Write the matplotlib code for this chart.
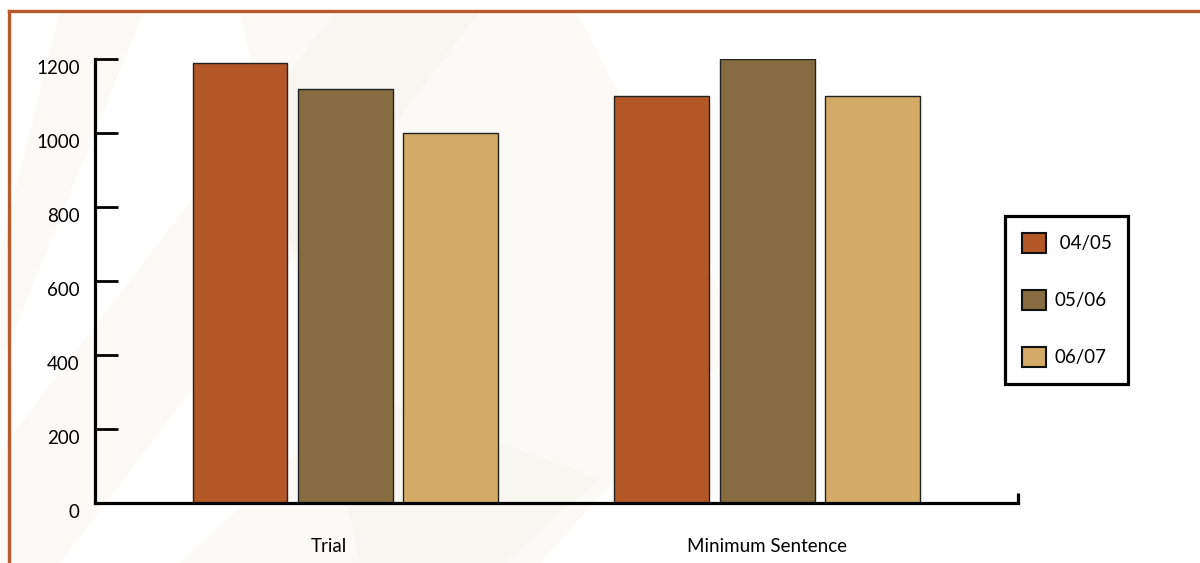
import matplotlib
matplotlib.use("Agg")
import matplotlib.pyplot as plt
import matplotlib.transforms as mtransforms
from matplotlib.lines import Line2D
from matplotlib.patches import Polygon
import numpy as np

categories = ["Trial", "Minimum Sentence"]
series_names = [" 04/05", "05/06", "06/07"]
values_0405 = [1190, 1100]
values_0506 = [1120, 1200]
values_0607 = [1000, 1100]
yticks = [0, 200, 400, 600, 800, 1000, 1200]

colors = ["#b35727", "#866c40", "#d4ab66"]
series = [values_0405, values_0506, values_0607]

plt.rcParams["font.family"] = ["Lato", "DejaVu Sans"]

fig = plt.figure(figsize=(12, 5.63), dpi=100)
fig.patch.set_facecolor("white")

# faint textured background bands
bands = [
    [(0.00, 0.55), (0.05, 0.98), (0.12, 0.98), (0.00, 0.35)],
    [(0.00, 0.20), (0.28, 0.98), (0.40, 0.98), (0.05, 0.00), (0.00, 0.00)],
    [(0.20, 0.98), (0.48, 0.98), (0.62, 0.40), (0.45, 0.00), (0.30, 0.00)],
    [(0.15, 0.00), (0.42, 0.00), (0.50, 0.15), (0.30, 0.30)],
]
for b in bands:
    fig.patches.append(Polygon(b, closed=True, transform=fig.transFigure,
                               facecolor="#f3eee2", alpha=0.28, edgecolor="none",
                               zorder=-5))

# orange frame lines
fig.add_artist(Line2D([9 / 1200, 1.0], [1 - 11 / 563, 1 - 11 / 563],
                      transform=fig.transFigure, color="#b85a2a", lw=2.4))
fig.add_artist(Line2D([9 / 1200, 9 / 1200], [0, 1 - 11 / 563],
                      transform=fig.transFigure, color="#b85a2a", lw=2.4))

ax = fig.add_axes([95 / 1200, 1 - 503 / 563, (1018 - 95) / 1200, (503 - 59) / 563])
ax.patch.set_alpha(0)

x = np.arange(len(categories))
width = 0.225
step = 0.25
for i, (name, vals) in enumerate(zip(series_names, series)):
    ax.bar(x + (i - 1) * step, vals, width, color=colors[i], edgecolor="#222222",
           linewidth=1.0, label=name, zorder=2)

xmin, xmax = -0.594, 1.595
ax.set_xlim(xmin, xmax)
ax.set_ylim(0, 1200)

for side in ["top", "right"]:
    ax.spines[side].set_visible(False)
for side in ["left", "bottom"]:
    ax.spines[side].set_linewidth(2.3)
    ax.spines[side].set_zorder(3)

ax.set_yticks(yticks)
ax.set_yticklabels([str(v) for v in yticks])
ax.tick_params(axis="y", direction="in", length=16.5, width=2.0, pad=11,
               labelsize=13.5, colors="black")
offset = mtransforms.ScaledTranslation(0, -8 / 100, fig.dpi_scale_trans)
for lab in ax.get_yticklabels():
    lab.set_transform(lab.get_transform() + offset)

# small end mark at right of the x axis
ax.set_xticks([xmax])
ax.set_xticklabels([""])
ax.tick_params(axis="x", which="major", direction="in", length=7.5, width=2.3)
ax.set_xticks(x, minor=True)
ax.set_xticklabels(categories, minor=True)
ax.tick_params(axis="x", which="minor", length=0, pad=25, labelsize=13.5)
# the "Trial" label sits a little left of its group in the original
trial_lab = ax.get_xticklabels(minor=True)[0]
trial_lab.set_transform(trial_lab.get_transform() +
                        mtransforms.ScaledTranslation(-0.17, 0, fig.dpi_scale_trans))

leg = fig.legend(loc="upper left", bbox_to_anchor=(1005 / 1200, 1 - 216 / 563),
                 bbox_transform=fig.transFigure, borderaxespad=0,
                 fontsize=13.5, handlelength=1.3, handleheight=1.3,
                 handletextpad=0.45, labelspacing=1.95, borderpad=0.9,
                 fancybox=False, framealpha=1, edgecolor="black")
leg.get_frame().set_linewidth(2.3)
for h in leg.legend_handles:
    h.set_edgecolor("#111111")
    h.set_linewidth(1.5)

fig.savefig("out.png", dpi=100)
